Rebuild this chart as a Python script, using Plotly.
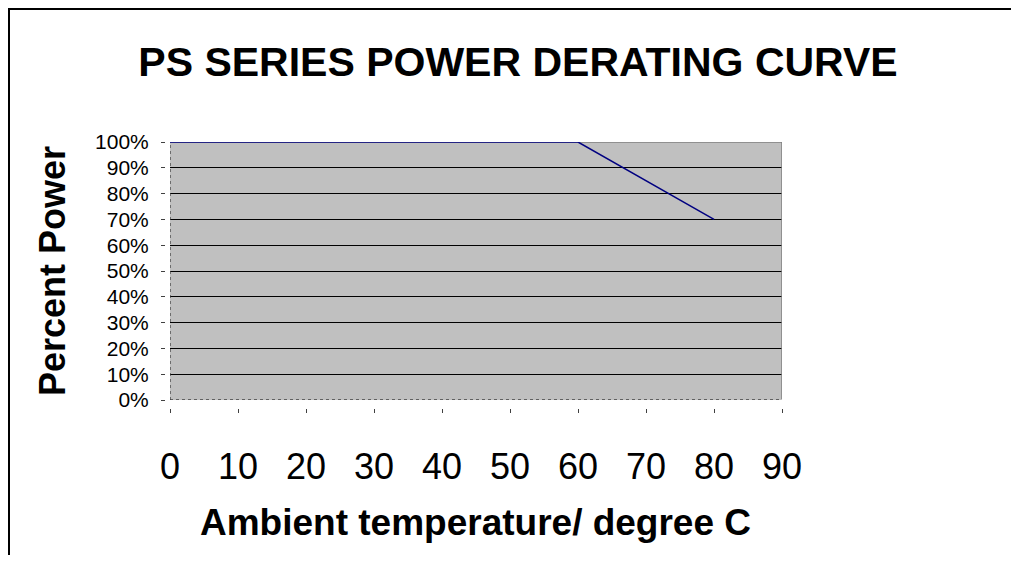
import plotly.graph_objects as go

# Data
temperature = [0, 60, 80]
percent_power = [100, 100, 70]
x_ticks = [0, 10, 20, 30, 40, 50, 60, 70, 80, 90]
y_ticks = [0, 10, 20, 30, 40, 50, 60, 70, 80, 90, 100]
y_tick_labels = [f"{v}%" for v in y_ticks]
title_text = "PS SERIES POWER DERATING CURVE"
x_title = "Ambient temperature/ degree C"
y_title = "Percent Power"

FONT = "Arial, Liberation Sans, sans-serif"
OFF = 8  # page body margin
W, H = 1019 - 2 * OFF, 563 - 2 * OFF
L = 165 - OFF
R = W - (782 - OFF)
T = 142 - OFF
B = H - (408 - OFF)
PW, PH = W - L - R, H - T - B


def px(p):
    return (p - OFF - L) / PW


def py(p):
    return (H - B - (p - OFF)) / PH


fig = go.Figure()
fig.add_trace(go.Scatter(
    x=temperature, y=percent_power, mode="lines",
    line=dict(color="#000080", width=1.5), showlegend=False,
    cliponaxis=False,
))

fig.update_layout(
    width=W, height=H,
    margin=dict(l=L, r=R, t=T, b=B, pad=0),
    paper_bgcolor="white",
    plot_bgcolor="#C0C0C0",
    font=dict(family=FONT, color="black"),
    title=dict(text="<b>" + title_text + "</b>", x=(518 - OFF) / W,
               xanchor="center", y=1 - (62 - OFF) / H, yanchor="middle",
               font=dict(size=41, family=FONT)),
    xaxis=dict(range=[0, 90], tickvals=x_ticks, domain=[px(170), 1],
               anchor="free", position=0, showgrid=False, zeroline=False,
               showline=False, ticks="outside", ticklen=4, tickwidth=1,
               tickcolor="#404040", tickfont=dict(size=36, family=FONT),
               ticklabelstandoff=23),
    yaxis=dict(range=[0, 100], tickvals=y_ticks, ticktext=y_tick_labels,
               domain=[py(400), 1], anchor="free", position=0,
               showgrid=True, gridcolor="black", gridwidth=1.3,
               zeroline=False, showline=False, ticks="outside", ticklen=4,
               tickwidth=1, tickcolor="#404040",
               tickfont=dict(size=21, family=FONT), ticklabelstandoff=8),
    annotations=[
        dict(text="<b>" + x_title + "</b>", xref="paper", yref="paper",
             x=px(475), y=py(522), xanchor="center", yanchor="middle",
             showarrow=False, font=dict(size=37, family=FONT)),
        dict(text="<b>" + y_title + "</b>", xref="paper", yref="paper",
             x=px(52), y=py(271), xanchor="center", yanchor="middle",
             textangle=-90, showarrow=False, font=dict(size=36, family=FONT)),
    ],
    shapes=[
        # outer chart frame (left and top edges visible)
        dict(type="line", xref="paper", yref="paper",
             x0=px(8), x1=px(1019 - OFF + 8), y0=py(9), y1=py(9),
             line=dict(color="black", width=2)),
        dict(type="line", xref="paper", yref="paper",
             x0=px(9), x1=px(9), y0=py(8), y1=py(563),
             line=dict(color="black", width=2)),
        # plot area border (top & right)
        dict(type="line", xref="x", yref="y", x0=0, x1=90, y0=100, y1=100,
             line=dict(color="#808080", width=1.5), layer="between"),
        dict(type="line", xref="x", yref="y", x0=90, x1=90, y0=0, y1=100,
             line=dict(color="#808080", width=1.5), layer="between"),
        # dashed axes (left & bottom)
        dict(type="line", xref="x", yref="y", x0=0, x1=90, y0=0, y1=0,
             line=dict(color="#C0C0C0", width=2), layer="above"),
        dict(type="line", xref="x", yref="y", x0=0, x1=90, y0=0, y1=0,
             line=dict(color="#404040", width=1.3, dash="3px,3px"), layer="above"),
        dict(type="line", xref="x", yref="y", x0=0, x1=0, y0=0, y1=99.5,
             line=dict(color="#404040", width=1.3, dash="3px,3px"), layer="above"),
    ],
)

fig.write_html("out.html")
